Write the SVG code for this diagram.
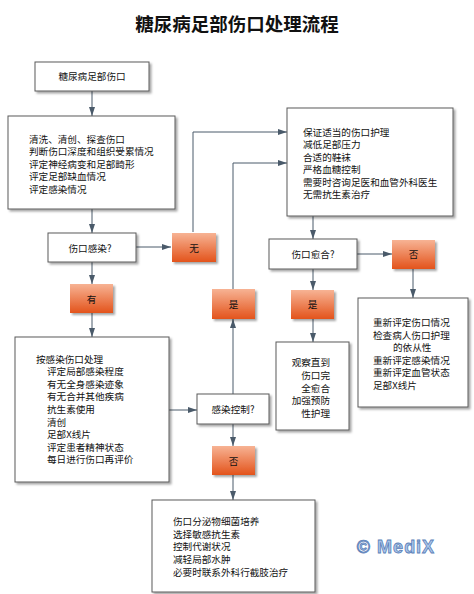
<svg xmlns="http://www.w3.org/2000/svg" width="474" height="594" viewBox="0 0 474 594">
<defs>
<linearGradient id="og" x1="0" y1="0" x2="0" y2="1">
<stop offset="0" stop-color="#f7b394"/>
<stop offset="1" stop-color="#e3531b"/>
</linearGradient>
<filter id="sh" x="-10%" y="-10%" width="130%" height="130%">
<feDropShadow dx="2" dy="2" stdDeviation="1.2" flood-color="#000" flood-opacity="0.35"/>
</filter>
<marker id="ah" markerWidth="9" markerHeight="7" refX="9" refY="3.5" orient="auto" markerUnits="userSpaceOnUse">
<path d="M0,0.5 L9,3.5 L0,6.5 z" fill="#4a5a6a"/>
</marker>
</defs>
<style>
.bx{fill:#fff;stroke:#5a5a5a;stroke-width:1;filter:url(#sh)}
.ob{fill:url(#og);filter:url(#sh)}
.t{font-family:"Noto Sans CJK SC","Noto Sans",sans-serif;font-size:9.6px;fill:#111}
.c{text-anchor:middle}
.ln{fill:none;stroke:#4a5a6a;stroke-width:1;marker-end:url(#ah)}
</style>
<rect width="474" height="594" fill="#fff"/>
<text x="237" y="31" text-anchor="middle" style="font-family:'Noto Sans CJK SC',sans-serif;font-size:18.5px;font-weight:bold;fill:#111">糖尿病足部伤口处理流程</text>

<g id="connectors">
<line class="ln" x1="92" y1="91" x2="92" y2="116"/>
<line class="ln" x1="92" y1="209" x2="92" y2="233"/>
<line class="ln" x1="136" y1="247" x2="171" y2="247"/>
<line class="ln" x1="92" y1="262" x2="92" y2="284"/>
<line class="ln" x1="92" y1="313" x2="92" y2="337"/>
<polyline class="ln" points="193,232 193,132 287,132"/>
<polyline class="ln" points="233,289 233,163 287,163"/>
<line class="ln" x1="169" y1="410" x2="197" y2="410"/>
<line class="ln" x1="233" y1="394" x2="233" y2="319"/>
<line class="ln" x1="233" y1="424" x2="233" y2="446"/>
<line class="ln" x1="233" y1="475" x2="233" y2="500"/>
<line class="ln" x1="313" y1="216" x2="313" y2="239"/>
<line class="ln" x1="357" y1="254" x2="392" y2="254"/>
<line class="ln" x1="413" y1="269" x2="413" y2="298"/>
<line class="ln" x1="313" y1="269" x2="313" y2="290"/>
<line class="ln" x1="313" y1="319" x2="313" y2="342"/>
</g>

<g id="n1"><rect class="bx" x="35" y="62" width="114" height="29"/><text class="t c" x="92" y="80">糖尿病足部伤口</text></g>

<g id="n2"><rect class="bx" x="8" y="116" width="167" height="93"/>
<text class="t" x="29" y="142.5">清洗、清创、探查伤口</text>
<text class="t" x="29" y="155">判断伤口深度和组织受累情况</text>
<text class="t" x="29" y="167.5">评定神经病变和足部畸形</text>
<text class="t" x="29" y="180">评定足部缺血情况</text>
<text class="t" x="29" y="192.5">评定感染情况</text></g>

<g id="n3"><rect class="bx" x="48" y="233" width="88" height="29"/><text class="t c" x="90" y="251.5">伤口感染?</text></g>

<g id="n4"><rect class="ob" x="172" y="233" width="44" height="29"/><text class="t c" x="194" y="251.5">无</text></g>

<g id="n5"><rect class="ob" x="70" y="284" width="43" height="29"/><text class="t c" x="91.5" y="302.5">有</text></g>

<g id="n6"><rect class="bx" x="15" y="337" width="154" height="145"/>
<text class="t" x="36" y="362.5">按感染伤口处理</text>
<text class="t" x="47" y="375">评定局部感染程度</text>
<text class="t" x="47" y="387.5">有无全身感染迹象</text>
<text class="t" x="47" y="400">有无合并其他疾病</text>
<text class="t" x="47" y="413">抗生素使用</text>
<text class="t" x="47" y="425.5">清创</text>
<text class="t" x="47" y="438">足部X线片</text>
<text class="t" x="47" y="450.5">评定患者精神状态</text>
<text class="t" x="47" y="463">每日进行伤口再评价</text></g>

<g id="n7"><rect class="bx" x="197" y="394" width="72" height="30"/><text class="t c" x="233" y="412.5">感染控制?</text></g>

<g id="n8"><rect class="ob" x="212" y="289" width="43" height="30"/><text class="t c" x="233.5" y="307.5">是</text></g>

<g id="n9"><rect class="ob" x="212" y="446" width="43" height="29"/><text class="t c" x="233.5" y="464.5">否</text></g>

<g id="n10"><rect class="bx" x="152" y="500" width="163" height="92"/>
<text class="t" x="173" y="524.5">伤口分泌物细菌培养</text>
<text class="t" x="173" y="537.5">选择敏感抗生素</text>
<text class="t" x="173" y="550">控制代谢状况</text>
<text class="t" x="173" y="562.5">减轻局部水肿</text>
<text class="t" x="173" y="575.5">必要时联系外科行截肢治疗</text></g>

<g id="n11"><rect class="bx" x="287" y="108" width="166" height="108"/>
<text class="t" x="303" y="135.5">保证适当的伤口护理</text>
<text class="t" x="303" y="148">减低足部压力</text>
<text class="t" x="303" y="160.5">合适的鞋袜</text>
<text class="t" x="303" y="173">严格血糖控制</text>
<text class="t" x="303" y="185.5">需要时咨询足医和血管外科医生</text>
<text class="t" x="303" y="198">无需抗生素治疗</text></g>

<g id="n12"><rect class="bx" x="269" y="239" width="88" height="30"/><text class="t c" x="313" y="257.5">伤口愈合?</text></g>

<g id="n13"><rect class="ob" x="392" y="240" width="43" height="29"/><text class="t c" x="413.5" y="258">否</text></g>

<g id="n14"><rect class="ob" x="291" y="290" width="43" height="29"/><text class="t c" x="312.5" y="308">是</text></g>

<g id="n15"><rect class="bx" x="276" y="342" width="73" height="88"/>
<text class="t" x="330" y="365.5" text-anchor="end">观察直到</text>
<text class="t" x="330" y="378.5" text-anchor="end">伤口完</text>
<text class="t" x="330" y="391.5" text-anchor="end">全愈合</text>
<text class="t" x="330" y="404" text-anchor="end">加强预防</text>
<text class="t" x="330" y="416.5" text-anchor="end">性护理</text></g>

<g id="n16"><rect class="bx" x="358" y="298" width="110" height="109"/>
<text class="t" x="373" y="326">重新评定伤口情况</text>
<text class="t" x="373" y="338.5">检查病人伤口护理</text>
<text class="t" x="393" y="351">的依从性</text>
<text class="t" x="373" y="363.5">重新评定感染情况</text>
<text class="t" x="373" y="376">重新评定血管状态</text>
<text class="t" x="373" y="388.5">足部X线片</text></g>

<text x="396" y="553" text-anchor="middle" style="font-family:'Liberation Sans',Arial,sans-serif;font-size:18px;font-weight:bold;fill:#aac6ea;stroke:#5b80b8;stroke-width:0.8;letter-spacing:1px">© MediX</text>
</svg>
